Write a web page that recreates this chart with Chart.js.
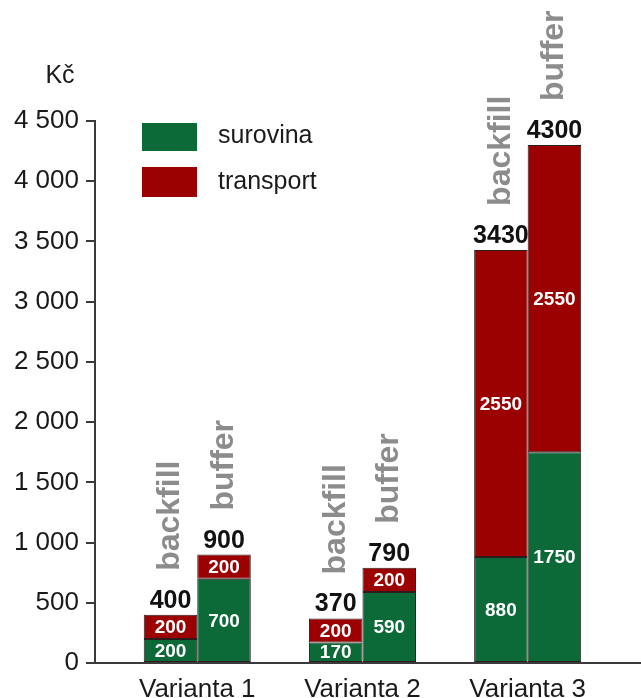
<!DOCTYPE html>
<html>
<head>
<meta charset="utf-8">
<script src="https://cdn.jsdelivr.net/npm/chart.js@4.4.1/dist/chart.umd.min.js"></script>
<style>
  html, body { margin: 0; padding: 0; background: #ffffff; }
  canvas { display: block; }
</style>
</head>
<body>
<canvas id="c" width="641" height="698"></canvas>
<script>
// Cost per variant, split into raw material (surovina) and transport
const categories = ['Varianta 1', 'Varianta 2', 'Varianta 3'];
const barNames = ['backfill', 'buffer'];
const seriesNames = ['surovina', 'transport'];
const surovinaBackfill = [200, 170, 880];
const transportBackfill = [200, 200, 2550];
const surovinaBuffer = [700, 590, 1750];
const transportBuffer = [200, 200, 2550];
const yTickValues = [0, 500, 1000, 1500, 2000, 2500, 3000, 3500, 4000, 4500];
const unitLabel = 'Kč';

const GREEN = '#0c6a39';
const RED = '#9b0101';
const FONT = '"Liberation Sans", Arial, sans-serif';

// categories sit at x = 1, 2, 3 on a numeric axis
const toPoints = arr => arr.map((v, i) => ({ x: i + 1, y: v }));

const barStyle = {
  borderWidth: 1,
  borderColor: '#2b1d1d',
  borderSkipped: false,
  barPercentage: 1,
  categoryPercentage: 0.648
};

const datasets = [
  { label: seriesNames[0], stack: barNames[0], data: toPoints(surovinaBackfill), backgroundColor: GREEN, ...barStyle },
  { label: seriesNames[1], stack: barNames[0], data: toPoints(transportBackfill), backgroundColor: RED, ...barStyle },
  { label: seriesNames[0], stack: barNames[1], data: toPoints(surovinaBuffer), backgroundColor: GREEN, ...barStyle },
  { label: seriesNames[1], stack: barNames[1], data: toPoints(transportBuffer), backgroundColor: RED, ...barStyle }
];

// dataset index pairs (bottom, top) for each stack, with the stack name
const stacks = [
  { name: barNames[0], low: 0, high: 1, lowVals: surovinaBackfill, highVals: transportBackfill },
  { name: barNames[1], low: 2, high: 3, lowVals: surovinaBuffer, highVals: transportBuffer }
];

function formatThousands(v) {
  if (v < 1000) return String(v);
  return Math.floor(v / 1000) + ' ' + String(v % 1000).padStart(3, '0');
}

const annotate = {
  id: 'annotate',
  afterDatasetsDraw(chart) {
    const ctx = chart.ctx;
    ctx.save();

    // values inside each segment
    ctx.fillStyle = '#ffffff';
    ctx.font = 'bold 19px ' + FONT;
    ctx.textAlign = 'center';
    ctx.textBaseline = 'middle';
    chart.data.datasets.forEach((ds, di) => {
      chart.getDatasetMeta(di).data.forEach((bar, i) => {
        const mid = (bar.y + bar.base) / 2;
        ctx.fillText(String(ds.data[i].y), bar.x, mid + 1);
      });
    });

    // totals and bar names above each stack
    stacks.forEach(st => {
      const topBars = chart.getDatasetMeta(st.high).data;
      topBars.forEach((bar, i) => {
        const total = st.lowVals[i] + st.highVals[i];
        ctx.fillStyle = '#111111';
        ctx.font = 'bold 25px ' + FONT;
        ctx.textAlign = 'center';
        ctx.textBaseline = 'alphabetic';
        ctx.fillText(String(total), bar.x, bar.y - 7);

        ctx.save();
        ctx.translate(bar.x + 9, bar.y - 44);
        ctx.rotate(-Math.PI / 2);
        ctx.fillStyle = '#8c8c8c';
        ctx.font = 'bold 32px ' + FONT;
        ctx.textAlign = 'left';
        ctx.textBaseline = 'alphabetic';
        ctx.fillText(st.name, 0, 0);
        ctx.restore();
      });
    });
    ctx.restore();
  },
  afterDraw(chart) {
    const ctx = chart.ctx;
    ctx.save();
    // unit above the value axis
    ctx.fillStyle = '#1a1a1a';
    ctx.font = '25px ' + FONT;
    ctx.textAlign = 'center';
    ctx.textBaseline = 'alphabetic';
    ctx.fillText(unitLabel, 60, 83);

    // legend
    const items = [
      { name: seriesNames[0], color: GREEN, y: 123, h: 28, base: 143 },
      { name: seriesNames[1], color: RED, y: 167, h: 30, base: 189 }
    ];
    items.forEach(it => {
      ctx.fillStyle = it.color;
      ctx.fillRect(142, it.y, 55, it.h);
      ctx.fillStyle = '#1a1a1a';
      ctx.font = '25px ' + FONT;
      ctx.textAlign = 'left';
      ctx.fillText(it.name, 218, it.base);
    });
    ctx.restore();
  }
};

new Chart(document.getElementById('c'), {
  type: 'bar',
  data: { datasets },
  plugins: [annotate],
  options: {
    responsive: false,
    devicePixelRatio: 1,
    animation: false,
    layout: { padding: { top: 121, left: 0, right: 0, bottom: 0 } },
    plugins: {
      legend: { display: false },
      tooltip: { enabled: false }
    },
    scales: {
      x: {
        type: 'linear',
        offset: false,
        bounds: 'ticks',
        min: 0.381,
        max: 3.686,
        grid: { display: false, drawTicks: false, offset: false },
        border: { display: true, color: '#3a3a3a', width: 2 },
        ticks: {
          stepSize: 1,
          includeBounds: false,
          padding: 11,
          color: '#1a1a1a',
          font: { family: FONT, size: 26 },
          callback: v => (Number.isInteger(v) && v >= 1 && v <= categories.length) ? categories[v - 1] : ''
        },
        afterFit: s => { s.height = 35; }
      },
      y: {
        stacked: true,
        min: yTickValues[0],
        max: yTickValues[yTickValues.length - 1],
        afterBuildTicks: s => { s.ticks = yTickValues.map(v => ({ value: v })); },
        grid: { display: true, drawOnChartArea: false, drawTicks: true, tickLength: 9, color: '#3a3a3a', lineWidth: 2 },
        border: { display: true, color: '#3a3a3a', width: 2 },
        ticks: {
          padding: 7,
          color: '#1a1a1a',
          font: { family: FONT, size: 26 },
          callback: v => formatThousands(v)
        },
        afterFit: s => { s.width = 95; }
      }
    }
  }
});
</script>
</body>
</html>
